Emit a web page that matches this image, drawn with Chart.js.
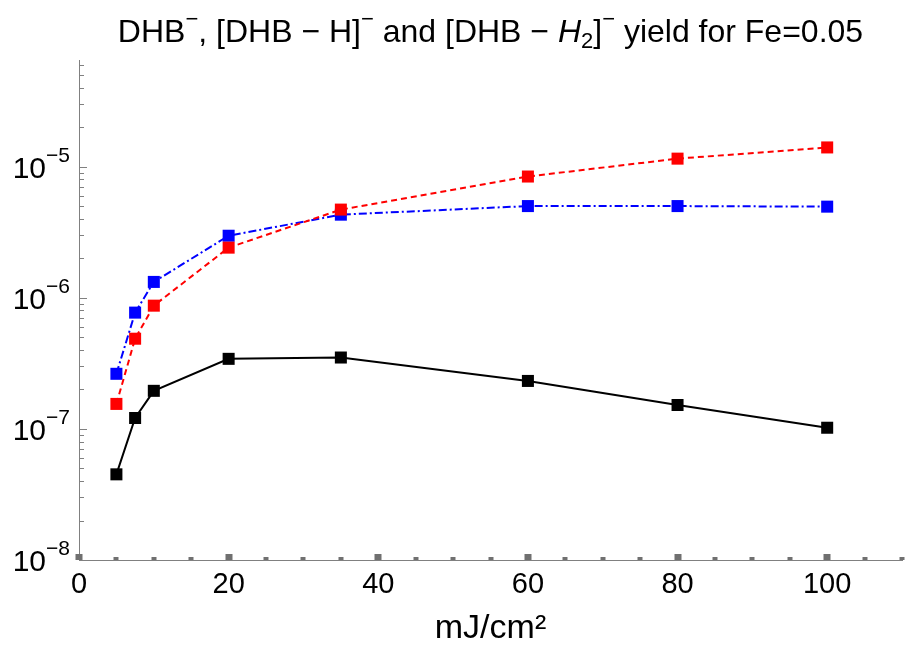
<!DOCTYPE html>
<html>
<head>
<meta charset="utf-8">
<script src="https://cdn.jsdelivr.net/npm/chart.js@4"></script>
<style>
  html, body { margin: 0; padding: 0; background: #fff; overflow: hidden; }
  #wrap { width: 905px; height: 649px; }
  canvas { display: block; }
</style>
</head>
<body>
<div id="wrap"><canvas id="yieldChart"></canvas></div>
<script>
// fluence values, mJ/cm^2
const fluence = [5, 7.5, 10, 20, 35, 60, 80, 100];

// yields
const dhbYield = [4.5e-8, 1.21e-7, 1.95e-7, 3.42e-7, 3.5e-7, 2.32e-7, 1.52e-7, 1.02e-7];
const dhbHYield = [1.55e-7, 4.87e-7, 8.7e-7, 2.41e-6, 4.7e-6, 8.4e-6, 1.15e-5, 1.40e-5];
const dhbH2Yield = [2.63e-7, 7.7e-7, 1.32e-6, 2.97e-6, 4.3e-6, 5.0e-6, 5.0e-6, 4.95e-6];

const xLabels = [0, 20, 40, 60, 80, 100];
const FONT = 'Liberation Sans, Arial, sans-serif';

const toPoints = (ys) => fluence.map((x, i) => ({ x: x, y: ys[i] }));

// draws a run of text pieces [text, size, dy, italic] side by side
function drawRich(ctx, parts, x, y, align) {
    const widths = parts.map(p => {
        ctx.font = (p[3] ? 'italic ' : '') + p[1] + 'px ' + FONT;
        return ctx.measureText(p[0]).width;
    });
    const total = widths.reduce((a, b) => a + b, 0);
    let cx = align === 'center' ? x - total / 2 : (align === 'right' ? x - total : x);
    ctx.textAlign = 'left';
    ctx.textBaseline = 'alphabetic';
    parts.forEach((p, i) => {
        ctx.font = (p[3] ? 'italic ' : '') + p[1] + 'px ' + FONT;
        ctx.fillText(p[0], cx, y + (p[2] || 0));
        cx += widths[i];
    });
}

// title, y labels with real superscripts and ticks pointing into the plot
const mathStyle = {
    id: 'mathStyle',
    afterDraw(chart) {
        const ctx = chart.ctx;
        const xs = chart.scales.x;
        const ys = chart.scales.y;
        const area = chart.chartArea;
        ctx.save();
        ctx.fillStyle = '#000';
        drawRich(ctx, [
            ['DHB', 32], ['−', 22, -16], [', [DHB − H]', 32], ['−', 22, -16],
            [' and [DHB − ', 32], ['H', 32, 0, true], ['2', 22, 6], [']', 32], ['−', 22, -16],
            [' yield for Fe=0.05', 32]
        ], (area.left + area.right) / 2, 42, 'center');

        ctx.strokeStyle = '#808080';
        ctx.lineWidth = 1;
        ys.ticks.forEach(t => {
            const e = Math.floor(Math.log10(t.value) + 1e-9);
            const m = t.value / Math.pow(10, e);
            if (Math.abs(m - Math.round(m)) > 1e-6) return;
            const major = Math.abs(m - 1) < 1e-6;
            const py = ys.getPixelForValue(t.value);
            const y = Math.round(py) + 0.5;
            ctx.beginPath();
            ctx.moveTo(area.left, y);
            ctx.lineTo(area.left + (major ? 8 : 5), y);
            ctx.stroke();
            if (major) {
                drawRich(ctx, [['10', 30], ['−' + Math.abs(e), 21, -16]], area.left - 9, py + 11, 'right');
            }
        });
        ctx.fillStyle = '#707070';
        xs.ticks.forEach(t => {
            const x = Math.round(xs.getPixelForValue(t.value));
            const major = t.value % 20 === 0;
            const w = major ? 7 : 5;
            const h = major ? 6 : 3;
            ctx.fillRect(x - w / 2, area.bottom - h, w, h);
        });
        ctx.restore();
    }
};

const ctx = document.getElementById('yieldChart').getContext('2d');

const chartData = {
    datasets: [{
        label: 'DHB-',
        data: toPoints(dhbYield),
        borderColor: '#000000',
        backgroundColor: '#000000',
        borderWidth: 2,
        pointStyle: 'rect',
        pointRadius: 8.5,
        pointBorderWidth: 0
    }, {
        label: '[DHB-H]-',
        data: toPoints(dhbHYield),
        borderColor: '#ff0000',
        backgroundColor: '#ff0000',
        borderWidth: 2,
        borderDash: [6, 4],
        pointStyle: 'rect',
        pointRadius: 8.5,
        pointBorderWidth: 0
    }, {
        label: '[DHB-H2]-',
        data: toPoints(dhbH2Yield),
        borderColor: '#0000ff',
        backgroundColor: '#0000ff',
        borderWidth: 2,
        borderDash: [8, 3, 2, 3],
        pointStyle: 'rect',
        pointRadius: 8.5,
        pointBorderWidth: 0
    }]
};

const config = {
    type: 'line',
    data: chartData,
    options: {
        responsive: true,
        maintainAspectRatio: false,
        animation: false,
        layout: { autoPadding: false, padding: { left: 0, right: 3, top: 60, bottom: 0 } },
        plugins: {
            legend: { display: false },
            tooltip: { enabled: false },
            title: { display: false }
        },
        scales: {
            x: {
                type: 'linear',
                min: 0,
                max: 110,
                afterFit: (s) => { s.height = 89; s.paddingRight = 0; },
                border: { color: '#808080', width: 1 },
                grid: { drawOnChartArea: false, drawTicks: false },
                ticks: {
                    stepSize: 5,
                    autoSkip: false,
                    maxRotation: 0,
                    padding: 8,
                    color: '#000',
                    font: { family: FONT, size: 29 },
                    callback: (v) => xLabels.includes(v) ? String(v) : ''
                },
                title: {
                    display: true,
                    text: 'mJ/cm²',
                    color: '#000',
                    font: { family: FONT, size: 34 },
                    padding: { top: 0, bottom: 0 }
                }
            },
            y: {
                type: 'logarithmic',
                min: 1e-8,
                max: 6.5e-5,
                afterFit: (s) => { s.width = 79; },
                border: { color: '#808080', width: 1 },
                grid: { drawOnChartArea: false, drawTicks: false },
                ticks: { display: false, autoSkip: false }
            }
        }
    },
    plugins: [mathStyle]
};

const yieldChart = new Chart(ctx, config);
</script>
</body>
</html>
